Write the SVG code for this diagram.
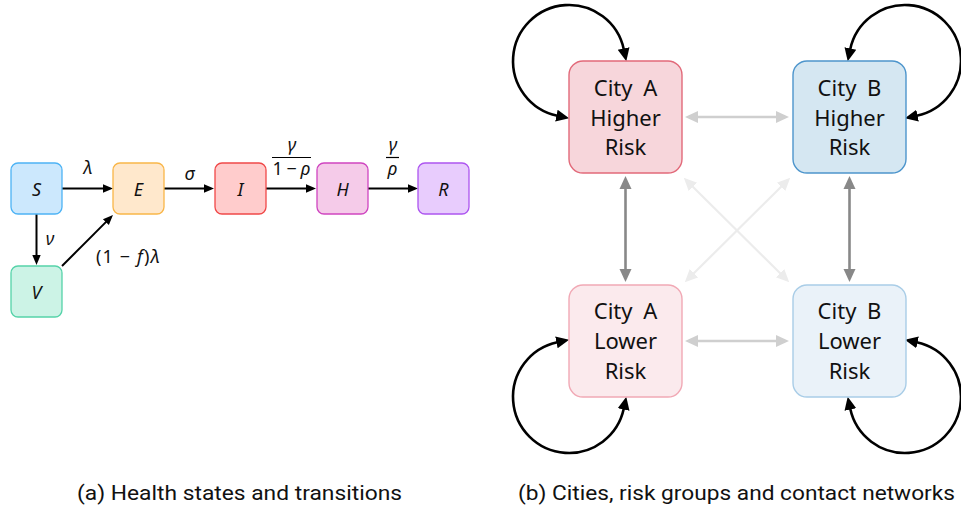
<svg xmlns="http://www.w3.org/2000/svg" width="961" height="510" viewBox="0 0 961 510">
<style>
.st{stroke-width:1.3}
.nl{font-family:"Noto Sans","DejaVu Sans",sans-serif;font-style:italic;font-size:18px;fill:#111;text-anchor:middle}
.ml{font-family:"Noto Sans","DejaVu Sans",sans-serif;font-style:italic;font-size:18px;fill:#111;text-anchor:middle}
.mu{font-family:"Noto Sans","DejaVu Sans",sans-serif;font-size:18px;fill:#111;text-anchor:middle}
.bl{font-family:"Noto Sans","Open Sans",sans-serif;font-size:22px;fill:#111;text-anchor:middle}
.cap{font-family:Roboto,"Noto Sans",sans-serif;font-size:21px;fill:#111;text-anchor:middle}
.la{fill:none;stroke:#000;stroke-width:2;marker-end:url(#lm)}
.loop{fill:none;stroke:#000;stroke-width:2.6;marker-start:url(#mb);marker-end:url(#mb)}
.gv{fill:none;stroke:#888;stroke-width:2.6;marker-start:url(#mg);marker-end:url(#mg)}
.gh{fill:none;stroke:#cfcfcf;stroke-width:2.4;marker-start:url(#mh);marker-end:url(#mh)}
.gd{fill:none;stroke:#ececec;stroke-width:2.2;marker-start:url(#md);marker-end:url(#md)}
</style>
<defs>
<marker id="lm" markerUnits="userSpaceOnUse" viewBox="0 -5 11 10" markerWidth="11" markerHeight="10" refX="1" refY="0" orient="auto"><path d="M0,-4.2 L10,0 L0,4.2 z" fill="#000"/></marker>
<marker id="mb" markerUnits="userSpaceOnUse" viewBox="0 -7 15 14" markerWidth="15" markerHeight="14" refX="1" refY="0" orient="auto-start-reverse"><path d="M0,-6 L13,0 L0,6 z" fill="#000"/></marker>
<marker id="mg" markerUnits="userSpaceOnUse" viewBox="0 -7 15 14" markerWidth="15" markerHeight="14" refX="1" refY="0" orient="auto-start-reverse"><path d="M0,-6 L13,0 L0,6 z" fill="#888"/></marker>
<marker id="mh" markerUnits="userSpaceOnUse" viewBox="0 -7 15 14" markerWidth="15" markerHeight="14" refX="1" refY="0" orient="auto-start-reverse"><path d="M0,-6 L13,0 L0,6 z" fill="#cfcfcf"/></marker>
<marker id="md" markerUnits="userSpaceOnUse" viewBox="0 -7 15 14" markerWidth="15" markerHeight="14" refX="1" refY="0" orient="auto-start-reverse"><path d="M0,-6 L13,0 L0,6 z" fill="#ececec"/></marker>
</defs>

<!-- Panel (a) connectors -->
<g id="connectors-a">
<path class="la" d="M62,188.5 H104"/>
<path class="la" d="M164,188.5 H205"/>
<path class="la" d="M266,188.5 H307"/>
<path class="la" d="M368,188.5 H409"/>
<path class="la" d="M36.5,214 V256"/>
<path class="la" d="M62,266 L106.6,221.4"/>
<text class="ml" x="88" y="174">λ</text>
<text class="ml" x="189.5" y="180">σ</text>
<text class="ml" x="292" y="151">γ</text>
<line x1="272" y1="157.5" x2="311" y2="157.5" stroke="#000" stroke-width="1.2"/>
<text class="mu" x="291.5" y="175" textLength="38" lengthAdjust="spacing">1 − <tspan font-style="italic">ρ</tspan></text>
<text class="ml" x="393" y="151">γ</text>
<line x1="386" y1="157.5" x2="399" y2="157.5" stroke="#000" stroke-width="1.2"/>
<text class="ml" x="392.5" y="175">ρ</text>
<text class="ml" x="50" y="245">ν</text>
<text class="mu" x="128" y="263" textLength="64" lengthAdjust="spacing">(1 − <tspan font-style="italic">f</tspan>)<tspan font-style="italic">λ</tspan></text>
</g>

<g id="node-S"><rect class="st" x="11" y="163" width="51" height="51" rx="7" fill="#cce8fd" stroke="#4db3f5"/><text class="nl" x="36.5" y="196">S</text></g>
<g id="node-E"><rect class="st" x="113" y="163" width="51" height="51" rx="7" fill="#ffe8cc" stroke="#f9b648"/><text class="nl" x="138.5" y="196">E</text></g>
<g id="node-I"><rect class="st" x="215" y="163" width="51" height="51" rx="7" fill="#ffcccc" stroke="#f04848"/><text class="nl" x="240.5" y="196">I</text></g>
<g id="node-H"><rect class="st" x="317" y="163" width="51" height="51" rx="7" fill="#f5cbe9" stroke="#cf45c0"/><text class="nl" x="342.5" y="196">H</text></g>
<g id="node-R"><rect class="st" x="418" y="163" width="51" height="51" rx="7" fill="#e8ccfd" stroke="#ad55f0"/><text class="nl" x="443.5" y="196">R</text></g>
<g id="node-V"><rect class="st" x="11" y="266" width="51" height="51" rx="7" fill="#ccf3e6" stroke="#55d3a9"/><text class="nl" x="36.5" y="299">V</text></g>

<!-- Panel (b) connectors -->
<g id="connectors-b">
<path class="gd" d="M692.3,186.2 L780.7,273.8"/>
<path class="gd" d="M781.7,186.2 L693.3,273.8"/>
<path class="gh" d="M697,117 H777"/>
<path class="gh" d="M697,341 H777"/>
<path class="gv" d="M625.5,188 V270"/>
<path class="gv" d="M849.5,188 V270"/>
<path class="loop" d="M557.4,115.8 A56 56 0 1 1 623.8,49.4"/>
<path class="loop" d="M916.6,115.8 A56 56 0 1 0 850.2,49.4"/>
<path class="loop" d="M557.4,342.2 A56 56 0 1 0 623.8,408.6"/>
<path class="loop" d="M916.6,342.2 A56 56 0 1 1 850.2,408.6"/>
</g>

<g id="node-A-high"><rect x="569" y="61" width="113" height="112" rx="14" fill="#f7d6db" stroke="#e26a7a" stroke-width="1.4"/>
<text class="bl" x="625.5" y="96" word-spacing="5">City A</text><text class="bl" x="625.5" y="126">Higher</text><text class="bl" x="625.5" y="155">Risk</text></g>
<g id="node-B-high"><rect x="793" y="61" width="113" height="112" rx="14" fill="#d5e7f2" stroke="#4d95cc" stroke-width="1.4"/>
<text class="bl" x="849.5" y="96" word-spacing="5">City B</text><text class="bl" x="849.5" y="126">Higher</text><text class="bl" x="849.5" y="155">Risk</text></g>
<g id="node-A-low"><rect x="569" y="285" width="113" height="112" rx="14" fill="#fbeaed" stroke="#f1a9b5" stroke-width="1.4"/>
<text class="bl" x="625.5" y="319" word-spacing="5">City A</text><text class="bl" x="625.5" y="349">Lower</text><text class="bl" x="625.5" y="379">Risk</text></g>
<g id="node-B-low"><rect x="793" y="285" width="113" height="112" rx="14" fill="#eaf2f9" stroke="#a9cde7" stroke-width="1.4"/>
<text class="bl" x="849.5" y="319" word-spacing="5">City B</text><text class="bl" x="849.5" y="349">Lower</text><text class="bl" x="849.5" y="379">Risk</text></g>

<text class="cap" x="239.5" y="500" textLength="325" lengthAdjust="spacingAndGlyphs">(a) Health states and transitions</text>
<text class="cap" x="736.5" y="500" textLength="437" lengthAdjust="spacingAndGlyphs">(b) Cities, risk groups and contact networks</text>
</svg>
